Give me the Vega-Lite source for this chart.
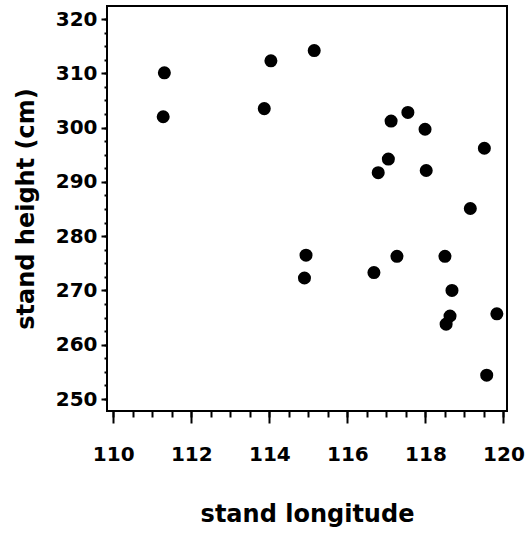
{
  "$schema": "https://vega.github.io/schema/vega-lite/v6.json",
  "width": 400,
  "height": 405,
  "autosize": "none",
  "padding": {"left": 107, "top": 6, "right": 18, "bottom": 123},
  "background": "white",
  "config": {
    "view": {"stroke": "black", "strokeWidth": 2},
    "axis": {
      "grid": false,
      "domain": false,
      "tickColor": "black",
      "tickWidth": 2,
      "labelFont": "DejaVu Sans",
      "labelFontWeight": "bold",
      "labelFontSize": 20,
      "labelColor": "black",
      "titleFont": "DejaVu Sans",
      "titleFontWeight": "bold",
      "titleFontSize": 24,
      "titleColor": "black"
    }
  },
  "data": {
    "values": [
      {"lon": 111.31, "height": 310.1},
      {"lon": 111.28, "height": 302.0},
      {"lon": 114.04, "height": 312.3},
      {"lon": 115.15, "height": 314.2},
      {"lon": 113.87, "height": 303.5},
      {"lon": 117.12, "height": 301.2},
      {"lon": 117.55, "height": 302.8},
      {"lon": 117.99, "height": 299.7},
      {"lon": 119.51, "height": 296.2},
      {"lon": 117.05, "height": 294.2},
      {"lon": 116.79, "height": 291.7},
      {"lon": 118.02, "height": 292.1},
      {"lon": 119.15, "height": 285.1},
      {"lon": 114.94, "height": 276.5},
      {"lon": 114.9, "height": 272.3},
      {"lon": 117.27, "height": 276.3},
      {"lon": 118.5, "height": 276.3},
      {"lon": 116.68, "height": 273.3},
      {"lon": 118.68, "height": 270.0},
      {"lon": 118.63, "height": 265.3},
      {"lon": 118.53, "height": 263.8},
      {"lon": 119.83, "height": 265.7},
      {"lon": 119.57, "height": 254.4}
    ]
  },
  "layer": [
    {
      "mark": {"type": "point", "filled": true, "color": "black", "size": 170, "opacity": 1},
      "encoding": {
        "x": {
          "field": "lon", "type": "quantitative",
          "scale": {"domain": [109.84, 120.09], "nice": false, "zero": false},
          "axis": {"orient": "bottom", "values": [110, 112, 114, 116, 118, 120], "tickSize": 12, "labelPadding": 21, "title": "stand longitude", "titlePadding": 38}
        },
        "y": {
          "field": "height", "type": "quantitative",
          "scale": {"domain": [247.8, 322.4], "nice": false, "zero": false},
          "axis": {"orient": "left", "values": [250, 260, 270, 280, 290, 300, 310, 320], "tickSize": 6, "labelPadding": 4, "title": "stand height (cm)", "titlePadding": 17}
        }
      }
    },
    {
      "mark": {"type": "point", "opacity": 0},
      "encoding": {
        "x": {
          "field": "lon", "type": "quantitative",
          "axis": {"orient": "bottom", "values": [110, 110.5, 111, 111.5, 112, 112.5, 113, 113.5, 114, 114.5, 115, 115.5, 116, 116.5, 117, 117.5, 118, 118.5, 119, 119.5, 120], "tickSize": 6, "labels": false, "title": null}
        },
        "y": {
          "field": "height", "type": "quantitative",
          "axis": {"orient": "left", "values": [250, 252.5, 255, 257.5, 260, 262.5, 265, 267.5, 270, 272.5, 275, 277.5, 280, 282.5, 285, 287.5, 290, 292.5, 295, 297.5, 300, 302.5, 305, 307.5, 310, 312.5, 315, 317.5, 320], "tickSize": 3, "labels": false, "title": null}
        }
      }
    }
  ],
  "resolve": {"axis": {"x": "independent", "y": "independent"}}
}
